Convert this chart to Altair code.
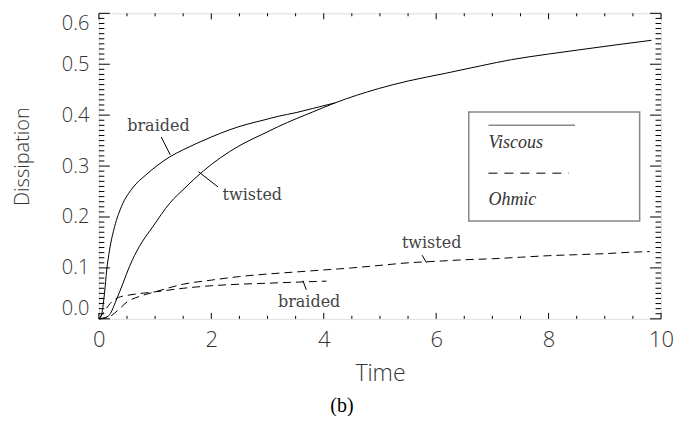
import altair as alt
import pandas as pd

# ---- data ----
bv_t = [0.0, 0.04, 0.1, 0.14, 0.19, 0.28, 0.4, 0.6, 0.84, 1.05, 1.26, 1.5, 1.73, 2.0, 2.32, 2.6, 2.92, 3.2, 3.51, 3.8, 4.2]
bv_v = [0.0, 0.005, 0.05, 0.096, 0.135, 0.181, 0.22, 0.257, 0.283, 0.302, 0.318, 0.332, 0.344, 0.357, 0.371, 0.381, 0.39, 0.398, 0.405, 0.413, 0.424]

tv_t = [0.0, 0.1, 0.19, 0.31, 0.43, 0.545, 0.72, 0.96, 1.26, 1.55, 1.73, 2.0, 2.32, 2.6, 2.92, 3.2, 3.51, 3.8, 4.2, 4.97, 5.5, 6.16, 6.8, 7.34, 8.0, 8.53, 9.2, 9.83]
tv_v = [0.0, 0.002, 0.008, 0.037, 0.07, 0.103, 0.142, 0.181, 0.227, 0.259, 0.278, 0.303, 0.328, 0.346, 0.363, 0.378, 0.393, 0.406, 0.424, 0.452, 0.467, 0.482, 0.497, 0.509, 0.52, 0.528, 0.538, 0.547]

bo_t = [0.0, 0.1, 0.2, 0.35, 0.5, 0.75, 1.0, 1.5, 2.0, 2.5, 3.0, 3.5, 4.05]
bo_v = [0.0, 0.015, 0.03, 0.042, 0.046, 0.05, 0.053, 0.06, 0.065, 0.068, 0.07, 0.072, 0.074]

to_t = [0.0, 0.2, 0.35, 0.5, 0.75, 1.0, 1.5, 2.0, 2.5, 3.0, 3.5, 4.0, 4.5, 5.0, 5.5, 6.0, 6.5, 7.0, 7.5, 8.0, 8.5, 9.0, 9.5, 9.8]
to_v = [0.0, 0.005, 0.018, 0.033, 0.045, 0.053, 0.068, 0.076, 0.083, 0.088, 0.092, 0.096, 0.1, 0.105, 0.11, 0.113, 0.116, 0.118, 0.121, 0.124, 0.126, 0.128, 0.131, 0.132]

x_major = [0, 2, 4, 6, 8, 10]
x_minor = [0.5, 1, 1.5, 2.5, 3, 3.5, 4.5, 5, 5.5, 6.5, 7, 7.5, 8.5, 9, 9.5]
y_major = [0.0, 0.1, 0.2, 0.3, 0.4, 0.5, 0.6]
y_minor = [round(i * 0.01, 2) for i in range(61) if i % 10 != 0]

# curve labels (text, t, v) and pointer segments (t, v, t2, v2)
lab_text = ["braided", "twisted", "twisted", "braided"]
lab_t = [1.06, 2.73, 5.92, 3.74]
lab_v = [0.378, 0.243, 0.149, 0.033]
ptr_t = [1.11, 1.77, 5.75, 3.63]
ptr_v = [0.357, 0.289, 0.125, 0.075]
ptr_t2 = [1.27, 2.12, 5.83, 3.69]
ptr_v2 = [0.322, 0.259, 0.11, 0.057]

# legend (in data units)
leg_box = dict(t=6.58, t2=9.62, v=0.406, v2=0.192)
leg_names = ["Viscous", "Ohmic"]
leg_line_t = [6.93, 6.93]
leg_line_t2 = [8.47, 8.36]
leg_line_v = [0.38, 0.286]
leg_text_v = [0.345, 0.233]

W, H = 563, 306
XS = alt.Scale(domain=[0, 10], nice=False, zero=False)
YS = alt.Scale(domain=[0, 0.6], nice=False, zero=False)
AX_FONT = "Open Sans"

def curve(t, v, name):
    return pd.DataFrame({"t": t, "v": v, "curve": name})

visc = pd.concat([curve(bv_t, bv_v, "braided"), curve(tv_t, tv_v, "twisted")])
ohm = pd.concat([curve(bo_t, bo_v, "braided"), curve(to_t, to_v, "twisted")])

x_axis = alt.Axis(values=x_major, ticks=False, domain=False, grid=False, format="d",
                  labelFontSize=22, labelFont=AX_FONT, labelFontWeight=300, labelColor="#333",
                  labelPadding=11, labelFlush=False, title="Time", titleFont=AX_FONT,
                  titleFontSize=23, titleFontWeight=300, titleColor="#333", titleY=62,
                  titleBaseline="alphabetic")
y_axis = alt.Axis(values=y_major, ticks=False, domain=False, grid=False, format=".1f",
                  labelFontSize=20, labelFont=AX_FONT, labelFontWeight=300, labelColor="#333",
                  labelPadding=10, labelFlush=True, title="Dissipation",
                  titleFont=AX_FONT, titleFontSize=20, titleFontWeight=300,
                  titleColor="#333", titleX=-70, titleY=143, titleBaseline="alphabetic",
                  titleAngle=-90)

def X(field="t"):
    return alt.X(f"{field}:Q", scale=XS, axis=x_axis)

def Y(field="v"):
    return alt.Y(f"{field}:Q", scale=YS, axis=y_axis)

solid = alt.Chart(visc).mark_line(color="black", strokeWidth=1, interpolate="monotone").encode(
    x=X(), y=Y(), detail="curve:N")
dashed = alt.Chart(ohm).mark_line(color="black", strokeWidth=1, strokeDash=[8, 5],
                                  interpolate="monotone").encode(
    x=X(), y=Y(), detail="curve:N")

def xticks(vals, length):
    df = pd.DataFrame({"t": vals})
    bottom = alt.Chart(df).mark_rule(color="black", strokeWidth=1).encode(
        x=X(), y=alt.value(H), y2=alt.value(H - length))
    top = alt.Chart(df).mark_rule(color="black", strokeWidth=1).encode(
        x=X(), y=alt.value(0), y2=alt.value(length))
    return [bottom, top]

def yticks(vals, length):
    df = pd.DataFrame({"v": vals})
    left = alt.Chart(df).mark_rule(color="black", strokeWidth=1).encode(
        y=Y(), x=alt.value(0), x2=alt.value(length))
    right = alt.Chart(df).mark_rule(color="black", strokeWidth=1).encode(
        y=Y(), x=alt.value(W), x2=alt.value(W - length))
    return [left, right]

ticks = xticks(x_major, 6) + xticks(x_minor, 3) + yticks(y_major, 11) + yticks(y_minor, 5.5)

labels_df = pd.DataFrame({"text": lab_text, "t": lab_t, "v": lab_v})
labels = alt.Chart(labels_df).mark_text(font="DejaVu Serif", fontSize=16, color="#444",
                                        align="center", baseline="middle").encode(
    x=X(), y=Y(), text="text:N")

ptr_df = pd.DataFrame({"t": ptr_t, "v": ptr_v, "t2": ptr_t2, "v2": ptr_v2})
pointers = alt.Chart(ptr_df).mark_rule(color="black", strokeWidth=1).encode(
    x=X(), y=Y(), x2="t2:Q", y2="v2:Q")

box_df = pd.DataFrame([leg_box])
box = alt.Chart(box_df).mark_rect(fill="white", fillOpacity=0, stroke="#888", strokeWidth=1.5).encode(
    x=X(), x2="t2:Q", y=Y(), y2="v2:Q")

leg_df = pd.DataFrame({"name": leg_names, "t": leg_line_t, "t2": leg_line_t2,
                       "v": leg_line_v, "tv": leg_text_v})
leg_solid = alt.Chart(leg_df.iloc[[0]]).mark_rule(color="#888", strokeWidth=1.5).encode(
    x=X(), x2="t2:Q", y=Y())
leg_dash = alt.Chart(leg_df.iloc[[1]]).mark_rule(color="#555", strokeWidth=1.5,
                                                 strokeDash=[9, 7]).encode(
    x=X(), x2="t2:Q", y=Y())
leg_text = alt.Chart(leg_df).mark_text(font="Liberation Serif", fontStyle="italic", fontSize=18,
                                       color="#333", align="left", baseline="middle").encode(
    x=X(), y=Y("tv"), text="name:N")

chart = alt.layer(
    solid, dashed, *ticks, labels, pointers, box, leg_solid, leg_dash, leg_text
).properties(
    width=W, height=H,
    autosize=alt.AutoSizeParams(type="none"),
    padding={"left": 91, "top": 5, "right": 13, "bottom": 97},
    title=alt.TitleParams("(b)", orient="bottom", font="Liberation Serif", fontSize=20,
                          fontWeight="normal", color="black", dx=-38, offset=10),
).configure_view(stroke="black", strokeWidth=1.2).configure(background="white")

chart.save("out.html", embed_options={"renderer": "svg", "actions": False})
